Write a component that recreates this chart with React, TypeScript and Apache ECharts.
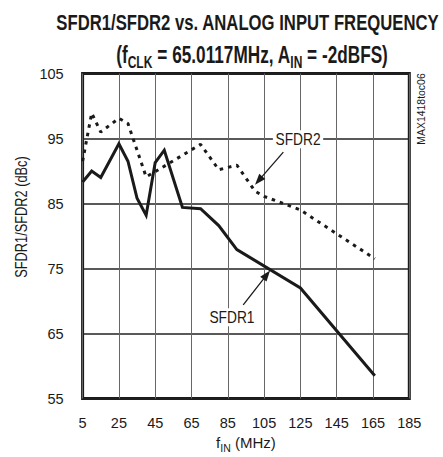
import React, { useEffect, useRef } from "react";
import * as echarts from "echarts";

// ---- data ----
const X_TICKS = [5, 25, 45, 65, 85, 105, 125, 145, 165, 185];
const Y_TICKS = [55, 65, 75, 85, 95, 105];

const SFDR1_FREQ = [5, 10, 15, 25, 30, 35, 40, 45, 50, 60, 70, 80, 90, 125, 166];
const SFDR1_VALUES = [88.3, 90.0, 89.0, 94.2, 91.5, 85.8, 83.2, 91.3, 93.2, 84.4, 84.2, 81.6, 77.9, 72.0, 58.5];

const SFDR2_FREQ = [5, 10, 15, 25, 30, 40, 45, 70, 80, 90, 100, 105, 125, 166];
const SFDR2_VALUES = [91.5, 98.9, 96.0, 98.1, 97.3, 89.1, 89.9, 94.1, 90.2, 90.9, 86.9, 86.1, 84.0, 76.5];

// annotations in data coordinates: [labelF, labelV, tailF, tailV, tipF, tipV]
const ANNOTATION_NAMES = ["SFDR2", "SFDR1"];
const ANNOTATION_POS = [
  [123.7, 94.9, 115.6, 92.9, 100.0, 87.9],
  [87.3, 67.5, 93.5, 69.4, 108.3, 74.7],
];

const SANS = "'Liberation Sans', Arial, Helvetica, sans-serif";
const INK = "#1a1a1a";

export default function App() {
  const ref = useRef<HTMLDivElement>(null);
  useEffect(() => {
    if (!ref.current) return;
    const chart = echarts.init(ref.current, undefined, { renderer: "svg" });
    const s1 = SFDR1_FREQ.map((f, i) => [f, SFDR1_VALUES[i]]);
    const s2 = SFDR2_FREQ.map((f, i) => [f, SFDR2_VALUES[i]]);
    chart.setOption({
      animation: false,
      backgroundColor: "#fff",
      grid: {
        left: 82.6,
        right: 33.7,
        top: 73.5,
        bottom: 58.5,
        show: true,
        borderColor: INK,
        borderWidth: 3,
        containLabel: false,
        outerBoundsMode: "none",
      },
      xAxis: {
        type: "value",
        min: X_TICKS[0],
        max: X_TICKS[X_TICKS.length - 1],
        interval: 20,
        axisLine: { show: false },
        axisTick: { show: false },
        axisLabel: { color: INK, fontFamily: SANS, fontSize: 14.5, margin: 17 },
        splitLine: { show: true, lineStyle: { color: "#666", width: 1 } },
        name: "{a|f}{s|IN}{a| (MHz)}",
        nameLocation: "middle",
        nameGap: 39,
        nameTextStyle: {
          rich: {
            a: { fontFamily: SANS, fontSize: 15, lineHeight: 14, color: INK, padding: [0, 0, 3, 0], verticalAlign: "bottom" },
            s: { fontFamily: SANS, fontSize: 10.5, lineHeight: 14, color: INK, verticalAlign: "bottom" },
          },
        },
      },
      yAxis: {
        type: "value",
        min: Y_TICKS[0],
        max: Y_TICKS[Y_TICKS.length - 1],
        interval: 10,
        axisLine: { show: false },
        axisTick: { show: false },
        axisLabel: { color: INK, fontFamily: SANS, fontSize: 14.5, margin: 19 },
        splitLine: { show: true, lineStyle: { color: "#222", width: 1.5 } },
      },
      series: [
        {
          type: "line",
          data: s2,
          showSymbol: false,
          symbol: "none",
          lineStyle: { color: INK, width: 3, type: [3.5, 5], cap: "butt" },
          z: 3,
        },
        {
          type: "line",
          data: s1,
          showSymbol: false,
          symbol: "none",
          lineStyle: { color: INK, width: 3, join: "miter" },
          z: 4,
        },
      ],
    });

    const px = (f: number, v: number) => chart.convertToPixel({ gridIndex: 0 }, [f, v]) as number[];
    const graphics: any[] = [
      {
        type: "text",
        x: 247.5,
        y: 22,
        scaleY: 1.37,
        style: {
          text: "SFDR1/SFDR2 vs. ANALOG INPUT FREQUENCY",
          fontFamily: SANS,
          fontWeight: "bold",
          fontSize: 16.7,
          fill: INK,
          textAlign: "center",
          textVerticalAlign: "middle",
        },
      },
      {
        type: "text",
        x: 252,
        y: 57,
        scaleY: 1.34,
        style: {
          text: "{a|(f}{s|CLK}{a| = 65.0117MHz, A}{s|IN}{a| = -2dBFS)}",
          textAlign: "center",
          textVerticalAlign: "middle",
          rich: {
            a: { fontFamily: SANS, fontWeight: "bold", fontSize: 17.2, fill: INK, padding: [0, 0, 3, 0], verticalAlign: "bottom" },
            s: { fontFamily: SANS, fontWeight: "bold", fontSize: 12, fill: INK, verticalAlign: "bottom" },
          },
        },
      },
      {
        type: "text",
        x: 21.7,
        y: 217,
        rotation: Math.PI / 2,
        scaleX: 0.8,
        style: {
          text: "SFDR1/SFDR2 (dBc)",
          fontFamily: SANS,
          fontSize: 16,
          fill: INK,
          textAlign: "center",
          textVerticalAlign: "middle",
        },
      },
      {
        type: "text",
        x: 420.7,
        y: 109,
        rotation: Math.PI / 2,
        scaleX: 0.95,
        style: {
          text: "MAX1418toc06",
          fontFamily: SANS,
          fontSize: 11,
          fill: INK,
          textAlign: "center",
          textVerticalAlign: "middle",
        },
      },
    ];

    ANNOTATION_POS.forEach((a, i) => {
      const lab = px(a[0], a[1]);
      const tail = px(a[2], a[3]);
      const tip = px(a[4], a[5]);
      const dx = tip[0] - tail[0];
      const dy = tip[1] - tail[1];
      const len = Math.hypot(dx, dy);
      const ux = dx / len;
      const uy = dy / len;
      const L = 11;
      const W = 4;
      const bx = tip[0] - ux * L;
      const by = tip[1] - uy * L;
      graphics.push({
        type: "line",
        shape: { x1: tail[0], y1: tail[1], x2: bx + ux * 2, y2: by + uy * 2 },
        style: { stroke: INK, lineWidth: 1.3 },
        z: 10,
      });
      graphics.push({
        type: "polygon",
        shape: {
          points: [
            [tip[0], tip[1]],
            [bx - uy * W, by + ux * W],
            [bx + uy * W, by - ux * W],
          ],
        },
        style: { fill: INK },
        z: 10,
      });
      graphics.push({
        type: "text",
        x: lab[0],
        y: lab[1],
        z: 10,
        scaleX: 0.86,
        style: {
          text: ANNOTATION_NAMES[i],
          fontFamily: SANS,
          fontSize: 16,
          fill: INK,
          textAlign: "center",
          textVerticalAlign: "middle",
          backgroundColor: "#fff",
          padding: [1, 3],
        },
      });
    });

    chart.setOption({ graphic: graphics });
    return () => chart.dispose();
  }, []);
  return (
    <div
      ref={ref}
      style={{ position: "fixed", left: 0, top: 0, width: 443, height: 457, background: "#fff" }}
    />
  );
}
